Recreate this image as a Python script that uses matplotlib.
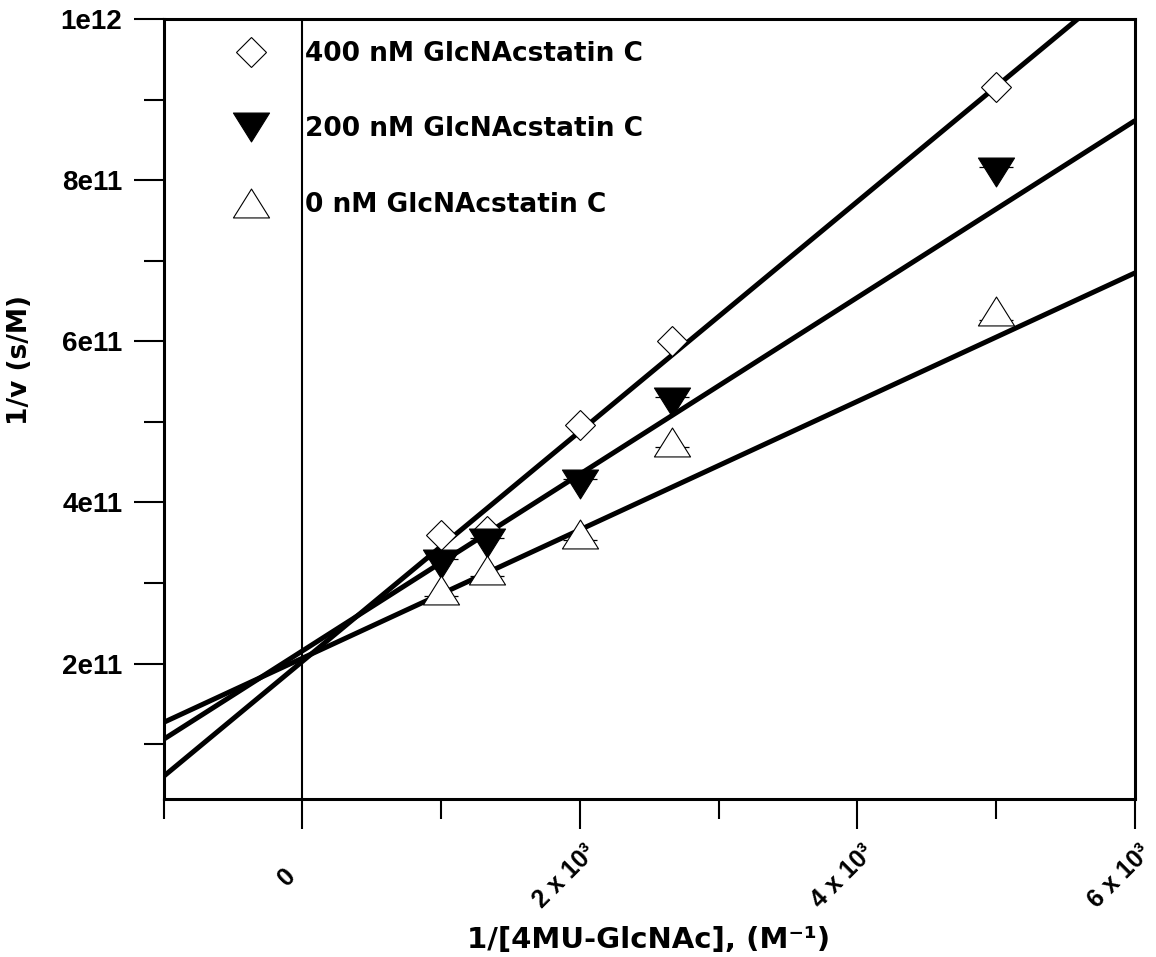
"""Lineweaver-Burk plot: GlcNAcstatin C inhibition of 4MU-GlcNAc hydrolysis."""

import matplotlib
matplotlib.use("Agg")
import matplotlib.pyplot as plt
import matplotlib.transforms as mtransforms
from matplotlib.path import Path
import numpy as np

#  Data 
inv_s = [1000, 1333.3, 2000, 2666.7, 5000]          # 1/[4MU-GlcNAc], M^-1

inv_v_400 = [3.60e11, 3.65e11, 4.96e11, 6.00e11, 9.16e11]
inv_v_200 = [3.24e11, 3.50e11, 4.23e11, 5.25e11, 8.10e11]
inv_v_0 = [2.91e11, 3.16e11, 3.61e11, 4.75e11, 6.38e11]

# error bars - only one cap of each is visible outside the marker
err_200 = [6e9, 6e9, 6e9, 6e9, 6e9]        # upper side
err_0 = [7e9, 7e9, 7e9, 6e9, 1.2e10]       # lower side

# linear fits: (slope, intercept)
fit_400 = (1.427e8, 2.027e11)
fit_200 = (1.097e8, 2.157e11)
fit_0 = (7.97e7, 2.067e11)

labels = ["400 nM GlcNAcstatin C", "200 nM GlcNAcstatin C", "0 nM GlcNAcstatin C"]

x_range = [-1000, 6000]
y_range = [3.2e10, 1e12]
x_major = [0, 2000, 4000, 6000]
x_major_labels = ["0", "2 x 10³", "4 x 10³", "6 x 10³"]
x_minor = [-1000, 1000, 3000, 5000]
y_major = [2e11, 4e11, 6e11, 8e11, 1e12]
y_major_labels = ["2e11", "4e11", "6e11", "8e11", "1e12"]
y_minor = [1e11, 3e11, 5e11, 7e11, 9e11]

#  Figure 
W, H = 1156, 957
fig = plt.figure(figsize=(W / 100, H / 100), dpi=100)
L, R, T, B = 163.5, 1135, 19, 799
ax = fig.add_axes([L / W, 1 - B / H, (R - L) / W, (B - T) / H])

# wide, flat triangles like the original markers
tri_up = Path([(0, 0.4), (-0.5, -0.4), (0.5, -0.4), (0, 0.4)],
              [Path.MOVETO, Path.LINETO, Path.LINETO, Path.CLOSEPOLY])
tri_down = Path([(0, -0.4), (-0.5, 0.4), (0.5, 0.4), (0, -0.4)],
                [Path.MOVETO, Path.LINETO, Path.LINETO, Path.CLOSEPOLY])

xx = np.array(x_range)
for slope, icpt in [fit_400, fit_200, fit_0]:
    ax.plot(xx, slope * xx + icpt, color="black", lw=3.6, zorder=2,
            solid_capstyle="butt")

ax.axvline(0, color="black", lw=1.5, zorder=1)

# error caps (one-sided), behind the markers
y200 = np.array(inv_v_200)
y0 = np.array(inv_v_0)
ax.vlines(inv_s, y200, y200 + np.array(err_200), color="black", lw=0.8, zorder=3)
ax.plot(inv_s, y200 + np.array(err_200), ls="none", marker="_", ms=24,
        mew=0.9, color="black", zorder=3)
ax.vlines(inv_s, y0 - np.array(err_0), y0, color="black", lw=0.8, zorder=3)
ax.plot(inv_s, y0 - np.array(err_0), ls="none", marker="_", ms=24,
        mew=0.9, color="black", zorder=3)

ax.plot(inv_s, inv_v_400, ls="none", marker="D", ms=15.5, mfc="white",
        mec="black", mew=0.8, zorder=4, label=labels[0])
ax.plot(inv_s, inv_v_200, ls="none", marker=tri_down, ms=26, mfc="black",
        mec="black", mew=0.8, zorder=4, label=labels[1])
ax.plot(inv_s, inv_v_0, ls="none", marker=tri_up, ms=26, mfc="white",
        mec="black", mew=0.8, zorder=4, label=labels[2])

ax.set_xlim(*x_range)
ax.set_ylim(*y_range)

for sp in ax.spines.values():
    sp.set_linewidth(2.2)

ax.set_xticks(x_major)
ax.set_xticks(x_minor, minor=True)
ax.set_yticks(y_major)
ax.set_yticks(y_minor, minor=True)
ax.set_yticklabels(y_major_labels, fontfamily="Liberation Sans",
                   fontweight="bold", fontsize=20)
ax.set_xticklabels(x_major_labels, fontfamily="Liberation Sans",
                   fontweight="bold", fontsize=18, rotation=45,
                   ha="center", va="center", rotation_mode="anchor")
ax.tick_params(which="major", direction="out", length=21.6, width=1.5,
               top=False, right=False)
ax.tick_params(which="minor", direction="out", length=14.4, width=1.5,
               top=False, right=False)
ax.tick_params(axis="y", which="major", pad=8)
ax.tick_params(axis="x", which="major", pad=34.5)

# rotated x labels sit a little left of their ticks
shift = mtransforms.ScaledTranslation(-15 / 100, 0, fig.dpi_scale_trans)
for lab in ax.get_xticklabels():
    lab.set_transform(lab.get_transform() + shift)

ax.set_xlabel("1/[4MU-GlcNAc], (M⁻¹)", fontweight="bold", fontsize=21)
ax.set_ylabel("1/v (s/M)", fontweight="bold", fontsize=19)
ax.xaxis.set_label_coords(0.499, -0.163)
ax.yaxis.set_label_coords(-0.134, 0.563)

ax.legend(loc="upper left", bbox_to_anchor=(0.048, 0.972), frameon=False,
          prop={"weight": "bold", "size": 19},
          handlelength=3.1, handletextpad=0.5, labelspacing=1.88,
          borderpad=0, borderaxespad=0, numpoints=1)

fig.savefig("out.png", dpi=100)
